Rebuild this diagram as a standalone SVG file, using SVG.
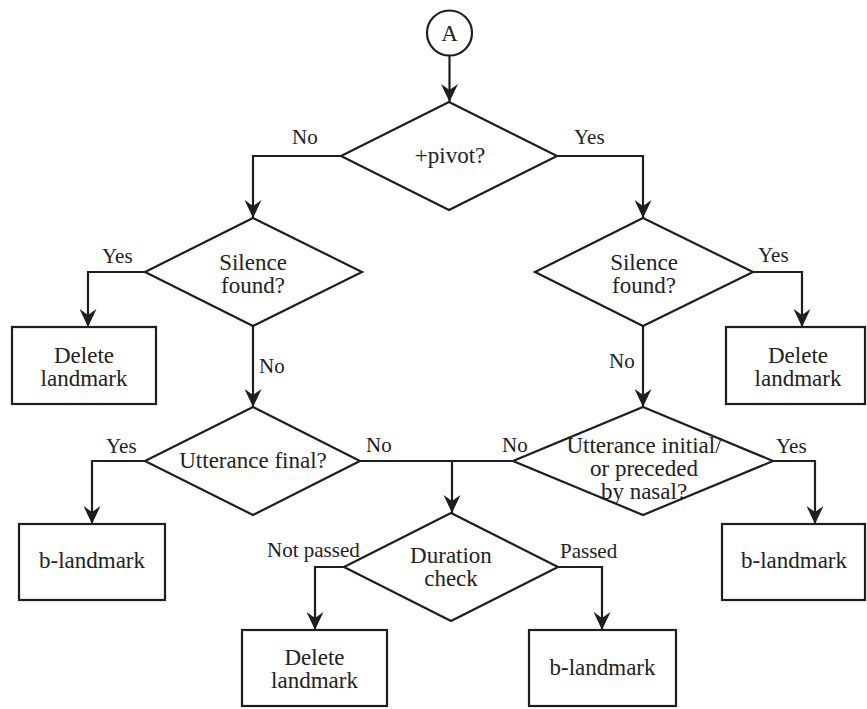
<svg xmlns="http://www.w3.org/2000/svg" width="867" height="709" viewBox="0 0 867 709">
  <style>
    .shape { fill: #ffffff; stroke: #1e1e1e; stroke-width: 2.2; }
    .wire { fill: none; stroke: #1e1e1e; stroke-width: 2.2; }
    text { fill: #222222; font-family: "Liberation Serif", "Times New Roman", serif; }
    .main { font-size: 23px; text-anchor: middle; }
    .lbl { font-size: 21px; }
  </style>
  <defs>
    <marker id="arrow" markerUnits="userSpaceOnUse" viewBox="0 0 18 17" refX="18" refY="8.5" markerWidth="18" markerHeight="17" orient="auto">
      <path d="M0,0 L18,8.5 L0,17 L6,8.5 Z" fill="#1e1e1e"/>
    </marker>
  </defs>
  <rect width="867" height="709" fill="#ffffff"/>

  <!-- connectors and their branch labels -->
  <g id="connectors">
    <path class="wire" d="M449.5,55.5 V102" marker-end="url(#arrow)"/>
    <path class="wire" d="M341,156 H253 V218" marker-end="url(#arrow)"/>
    <path class="wire" d="M557,156 H643 V218" marker-end="url(#arrow)"/>
    <path class="wire" d="M145,272 H88 V327" marker-end="url(#arrow)"/>
    <path class="wire" d="M753,272 H802 V327" marker-end="url(#arrow)"/>
    <path class="wire" d="M253,326 V407" marker-end="url(#arrow)"/>
    <path class="wire" d="M643,326 V407" marker-end="url(#arrow)"/>
    <path class="wire" d="M145,461 H92 V524" marker-end="url(#arrow)"/>
    <path class="wire" d="M773,461 H815 V524" marker-end="url(#arrow)"/>
    <path class="wire" d="M360,461 H513"/>
    <path class="wire" d="M452,461 V513" marker-end="url(#arrow)"/>
    <path class="wire" d="M344,567 H315 V630" marker-end="url(#arrow)"/>
    <path class="wire" d="M558,567 H602 V630" marker-end="url(#arrow)"/>

    <text class="lbl" x="292" y="144">No</text>
    <text class="lbl" x="574" y="144">Yes</text>
    <text class="lbl" x="102" y="263">Yes</text>
    <text class="lbl" x="758" y="262">Yes</text>
    <text class="lbl" x="259" y="373">No</text>
    <text class="lbl" x="609" y="368">No</text>
    <text class="lbl" x="106" y="453">Yes</text>
    <text class="lbl" x="366" y="452">No</text>
    <text class="lbl" x="502" y="452">No</text>
    <text class="lbl" x="776" y="453">Yes</text>
    <text class="lbl" x="267" y="557">Not passed</text>
    <text class="lbl" x="560" y="558">Passed</text>
  </g>

  <!-- nodes -->
  <g id="start">
    <circle class="shape" cx="449.5" cy="33" r="22.5"/>
    <text class="main" x="449.5" y="41">A</text>
  </g>
  <g id="pivot">
    <polygon class="shape" points="449,102 557,156 449,210 341,156"/>
    <text class="main" x="450" y="163">+pivot?</text>
  </g>
  <g id="silence-left">
    <polygon class="shape" points="253,218 362,272 253,326 145,272"/>
    <text class="main" x="253" y="270">Silence</text>
    <text class="main" x="253" y="293">found?</text>
  </g>
  <g id="silence-right">
    <polygon class="shape" points="643,218 753,272 643,326 535,272"/>
    <text class="main" x="644" y="270">Silence</text>
    <text class="main" x="644" y="293">found?</text>
  </g>
  <g id="delete-left">
    <rect class="shape" x="12" y="327" width="144" height="77"/>
    <text class="main" x="84" y="363">Delete</text>
    <text class="main" x="84" y="386">landmark</text>
  </g>
  <g id="delete-right">
    <rect class="shape" x="726" y="327" width="139" height="77"/>
    <text class="main" x="798" y="363">Delete</text>
    <text class="main" x="798" y="386">landmark</text>
  </g>
  <g id="utterance-final">
    <polygon class="shape" points="253,407 360,461 253,515 145,461"/>
    <text class="main" x="253" y="468">Utterance final?</text>
  </g>
  <g id="utterance-initial">
    <polygon class="shape" points="643,407 773,461 643,515 513,461"/>
    <text class="main" x="644" y="453">Utterance initial/</text>
    <text class="main" x="644" y="476">or preceded</text>
    <text class="main" x="644" y="499">by nasal?</text>
  </g>
  <g id="b-landmark-left">
    <rect class="shape" x="19" y="524" width="146" height="76"/>
    <text class="main" x="92" y="568">b-landmark</text>
  </g>
  <g id="b-landmark-right">
    <rect class="shape" x="722" y="524" width="143" height="76"/>
    <text class="main" x="794" y="568">b-landmark</text>
  </g>
  <g id="duration">
    <polygon class="shape" points="451,513 558,567 451,621 344,567"/>
    <text class="main" x="451" y="563">Duration</text>
    <text class="main" x="451" y="586">check</text>
  </g>
  <g id="delete-bottom">
    <rect class="shape" x="242" y="630" width="145" height="76"/>
    <text class="main" x="314.5" y="665">Delete</text>
    <text class="main" x="314.5" y="688">landmark</text>
  </g>
  <g id="b-landmark-bottom">
    <rect class="shape" x="529" y="630" width="147" height="76"/>
    <text class="main" x="602.5" y="675">b-landmark</text>
  </g>
</svg>
